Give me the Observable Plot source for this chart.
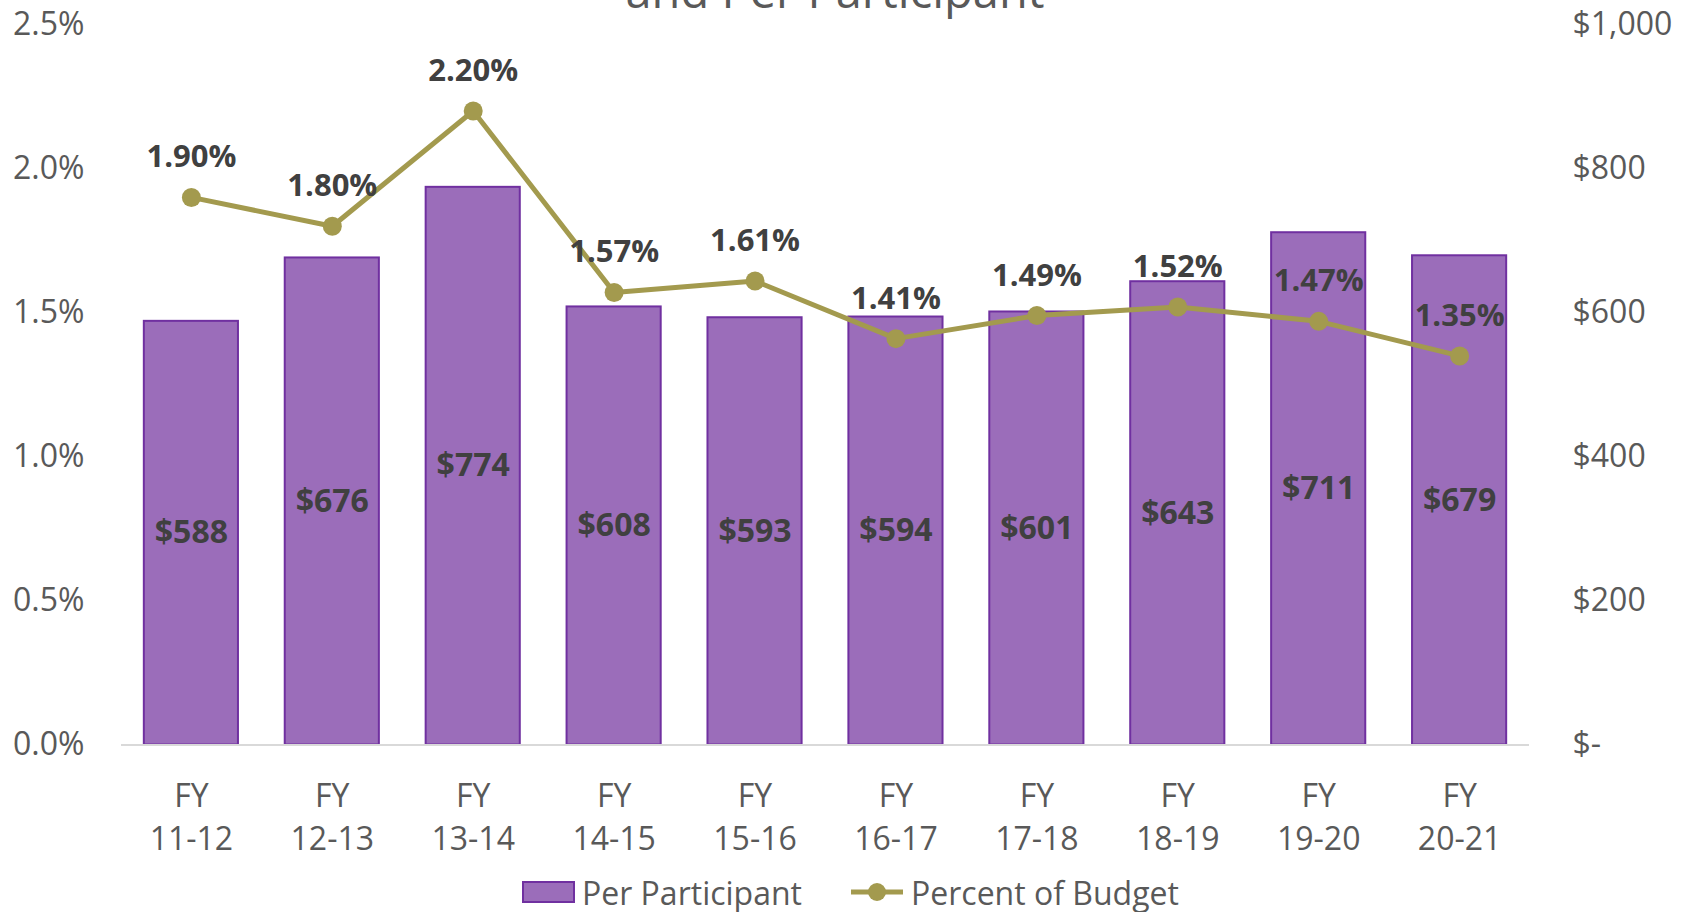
<!DOCTYPE html>
<html>
<head>
<meta charset="utf-8">
<script src="https://cdn.jsdelivr.net/npm/d3@7"></script>
<script src="https://cdn.jsdelivr.net/npm/@observablehq/plot@0.6"></script>
<style>
  html, body { margin: 0; padding: 0; background: white; }
  #wrap { position: relative; width: 1694px; height: 912px; overflow: hidden; font-family: "Open Sans", sans-serif; }
  #title { position: absolute; left: 0; width: 1670px; text-align: center; top: -40px; font-size: 47px; color: #595959; line-height: 1.3; white-space: nowrap; }
  #chart { position: absolute; left: 0; top: 0; }
  #legend { position: absolute; top: 872px; left: 0; width: 1694px; height: 40px; font-size: 32px; color: #595959; }
  .lg { position: absolute; top: 0; display: flex; align-items: center; height: 40px; white-space: nowrap; }
</style>
</head>
<body>
<div id="wrap">
  <div id="title">and Per Participant</div>
  <div id="chart"></div>
  <div id="legend">
    <div class="lg" style="left:522px;">
      <svg width="54" height="24" style="margin-right:6px"><rect x="1" y="2" width="51" height="20" fill="#9B6DBA" stroke="#7030A0" stroke-width="2"/></svg>
      <span>Per Participant</span>
    </div>
    <div class="lg" style="left:851px;">
      <svg width="54" height="24" style="margin-right:6px"><line x1="0" y1="12" x2="52" y2="12" stroke="#A39A4E" stroke-width="5"/><circle cx="26" cy="12" r="9" fill="#A39A4E"/></svg>
      <span>Percent of Budget</span>
    </div>
  </div>
</div>
<script>
const categories = ["FY 11-12","FY 12-13","FY 13-14","FY 14-15","FY 15-16","FY 16-17","FY 17-18","FY 18-19","FY 19-20","FY 20-21"];
const perParticipant = [588, 676, 774, 608, 593, 594, 601, 643, 711, 679];
const percentOfBudget = [1.90, 1.80, 2.20, 1.57, 1.61, 1.41, 1.49, 1.52, 1.47, 1.35];
const dollarTicks = [0, 200, 400, 600, 800, 1000];
const percentTicks = [0, 0.5, 1.0, 1.5, 2.0, 2.5];

const DOLLAR_MAX = 1000, PCT_MAX = 2.5;
const toDollarScale = p => p / PCT_MAX * DOLLAR_MAX;

const rows = categories.map((c, i) => ({
  cat: c,
  dollars: perParticipant[i],
  pct: percentOfBudget[i],
  pctY: toDollarScale(percentOfBudget[i])
}));

const textColor = "#595959";
const plot = Plot.plot({
  width: 1694,
  height: 860,
  marginTop: 24,
  marginBottom: 115.5,
  marginLeft: 121,
  marginRight: 165,
  style: { fontFamily: "Open Sans, sans-serif", background: "transparent", overflow: "visible" },
  x: { domain: categories, paddingInner: 0.332, paddingOuter: 0.162, round: false, axis: null, label: null },
  y: { domain: [0, DOLLAR_MAX], label: null },
  marks: [
    Plot.axisY({
      anchor: "left", ticks: percentTicks.map(toDollarScale), tickSize: 0, tickPadding: 37,
      tickFormat: (d) => (d / DOLLAR_MAX * PCT_MAX).toFixed(1) + "%",
      fontSize: 32, fill: textColor, label: null
    }),
    Plot.axisY({
      anchor: "right", ticks: dollarTicks, tickSize: 0, tickPadding: 43, textAnchor: "start",
      tickFormat: (d) => d === 0 ? "$-" : "$" + d3.format(",")(d),
      fontSize: 32, fill: textColor, label: null
    }),
    Plot.barY(rows, { x: "cat", y: "dollars", fill: "#9B6DBA", stroke: "#7030A0", strokeWidth: 2 }),
    Plot.ruleY([0], { stroke: "#D9D9D9", strokeWidth: 2 }),
    Plot.text(rows, {
      x: "cat", y: 0, text: d => d.cat.replace(" ", "\n"), lineAnchor: "top", dy: 32,
      lineHeight: 1.34, fontSize: 32, fill: textColor
    }),
    Plot.text(rows, {
      x: "cat", y: d => d.dollars / 2, text: d => "$" + d.dollars,
      fontSize: 32, fontWeight: "bold", fill: "#404040"
    }),
    Plot.line(rows, { x: "cat", y: "pctY", stroke: "#A39A4E", strokeWidth: 5 }),
    Plot.dot(rows, { x: "cat", y: "pctY", r: 9.5, fill: "#A39A4E" }),
    Plot.text(rows, {
      x: "cat", y: "pctY", text: d => d.pct.toFixed(2) + "%", dy: -40,
      fontSize: 31, fontWeight: "bold", fill: "#404040"
    })
  ]
});
document.getElementById("chart").appendChild(plot);
</script>
</body>
</html>
